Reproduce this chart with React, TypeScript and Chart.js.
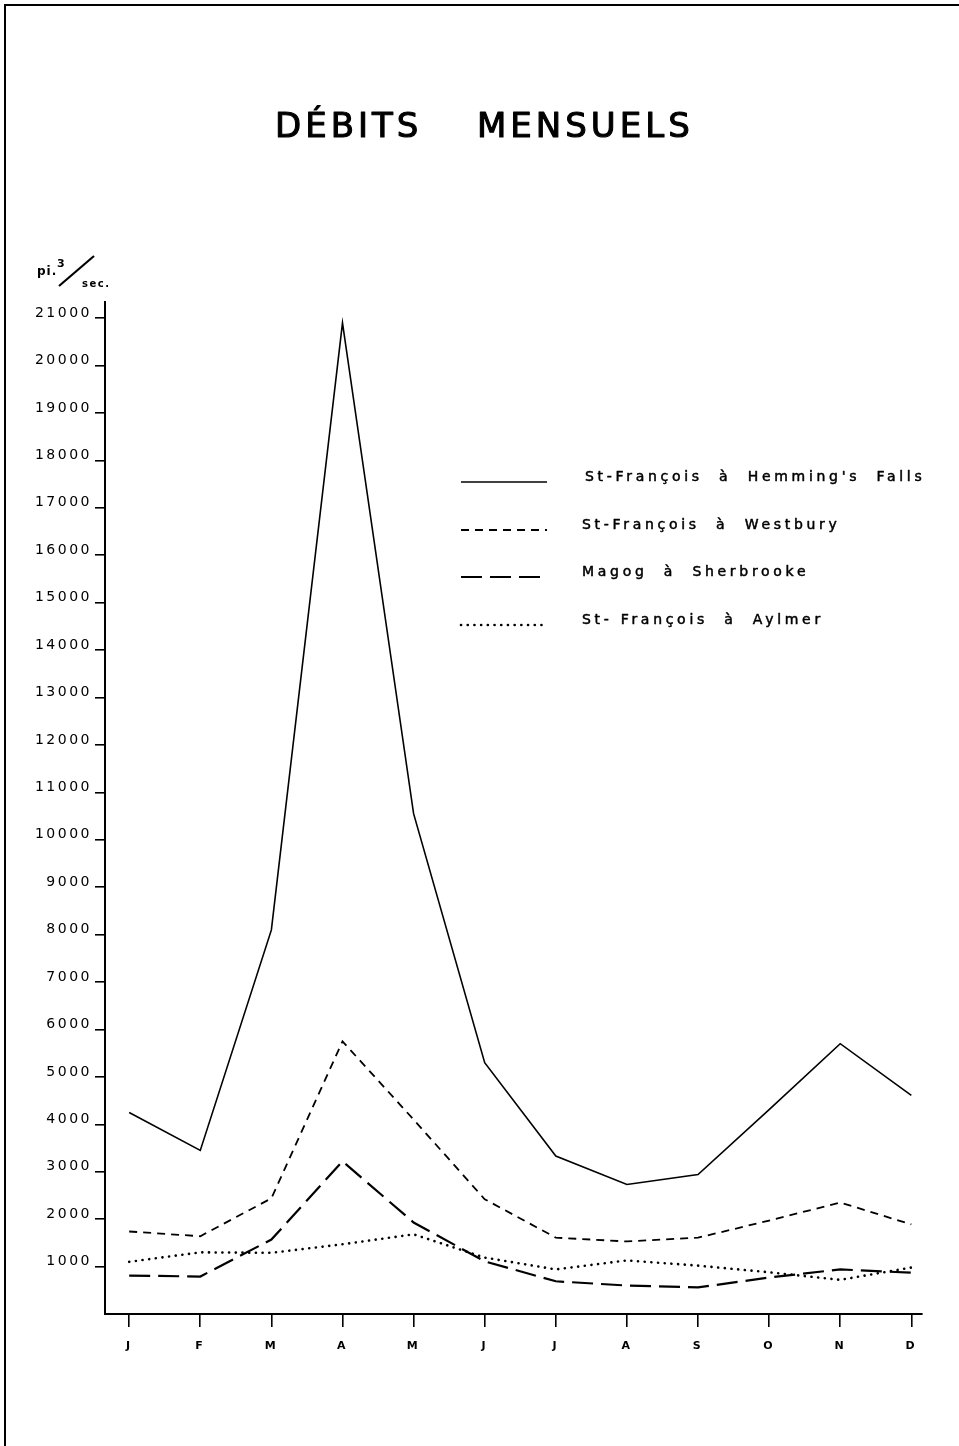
import React, { useEffect, useRef } from 'react';
import { Chart, registerables } from 'chart.js';

Chart.register(...registerables);

const MONTHS = ['J', 'F', 'M', 'A', 'M', 'J', 'J', 'A', 'S', 'O', 'N', 'D'];
const HEMMING = [4250, 3450, 8100, 20900, 10550, 5300, 3330, 2730, 2940, 4310, 5700, 4610];
const WESTBURY = [1740, 1640, 2440, 5750, 4100, 2420, 1610, 1530, 1610, 1970, 2350, 1890];
const MAGOG = [810, 790, 1570, 3220, 1930, 1110, 690, 600, 560, 770, 940, 870];
const AYLMER = [1100, 1300, 1290, 1470, 1680, 1190, 940, 1130, 1020, 880, 720, 980];
const Y_TICKS = [1000, 2000, 3000, 4000, 5000, 6000, 7000, 8000, 9000, 10000, 11000, 12000, 13000, 14000, 15000, 16000, 17000, 18000, 19000, 20000, 21000];
const SERIES_NAMES = [
  "St-François  à  Hemming's  Falls",
  'St-François  à  Westbury',
  'Magog  à  Sherbrooke',
  'St- François  à  Aylmer',
];
const TITLE_WORDS = ['DÉBITS', 'MENSUELS'];
const UNIT_TOP = 'pi.';
const UNIT_EXP = '3';
const UNIT_BOTTOM = 'sec.';

const FONT = '"DejaVu Sans", sans-serif';

const toPoints = (arr: number[]) => arr.map((v, i) => ({ x: i, y: v }));

const decorPlugin = {
  id: 'decor',
  beforeDraw(chart: any) {
    const ctx = chart.ctx as any;
    ctx.save();
    ctx.fillStyle = '#fff';
    ctx.fillRect(0, 0, chart.width, chart.height);
    ctx.restore();
    ctx.letterSpacing = '2.5px';
  },
  beforeDatasetsDraw(chart: any) {
    (chart.ctx as any).letterSpacing = '0px';
  },
  afterDraw(chart: any) {
    const ctx = chart.ctx as any;
    ctx.save();
    ctx.strokeStyle = '#000';
    ctx.fillStyle = '#000';
    // frame
    ctx.lineWidth = 2;
    ctx.beginPath();
    ctx.moveTo(5, chart.height);
    ctx.lineTo(5, 5);
    ctx.lineTo(chart.width, 5);
    ctx.stroke();

    // title
    ctx.letterSpacing = '4px';
    ctx.font = `34px ${FONT}`;
    ctx.textBaseline = 'alphabetic';
    ctx.textAlign = 'left';
    ctx.lineWidth = 1.1;
    ctx.lineJoin = 'round';
    ctx.fillText(TITLE_WORDS[0], 275, 137);
    ctx.strokeText(TITLE_WORDS[0], 275, 137);
    ctx.fillText(TITLE_WORDS[1], 477, 137);
    ctx.strokeText(TITLE_WORDS[1], 477, 137);

    // unit label
    ctx.letterSpacing = '1px';
    ctx.font = `bold 12px ${FONT}`;
    ctx.fillText(UNIT_TOP, 37, 275);
    ctx.font = `bold 11px ${FONT}`;
    ctx.fillText(UNIT_EXP, 57, 267);
    ctx.letterSpacing = '1.5px';
    ctx.font = `bold 10px ${FONT}`;
    ctx.fillText(UNIT_BOTTOM, 82, 287);
    ctx.lineWidth = 2.2;
    ctx.beginPath();
    ctx.moveTo(59, 286);
    ctx.lineTo(94, 256);
    ctx.stroke();

    // legend
    const ys = [482, 530, 577, 625];
    chart.data.datasets.forEach((ds: any, i: number) => {
      const y = ys[i];
      ctx.save();
      ctx.lineWidth = ds.borderWidth;
      ctx.setLineDash(ds.borderDash || []);
      ctx.lineCap = ds.borderCapStyle || 'butt';
      ctx.beginPath();
      ctx.moveTo(461, y);
      ctx.lineTo(547, y);
      ctx.stroke();
      ctx.restore();
      ctx.letterSpacing = '3.7px';
      ctx.font = `14px ${FONT}`;
      ctx.textBaseline = 'alphabetic';
      ctx.lineWidth = 0.5;
      const tx = i === 0 ? 585 : 582;
      ctx.fillText(ds.label, tx, y - 1);
      ctx.strokeText(ds.label, tx, y - 1);
    });
    ctx.restore();
    ctx.letterSpacing = '0px';
  },
};

export default function App() {
  const ref = useRef<HTMLCanvasElement | null>(null);
  useEffect(() => {
    document.body.style.margin = '0';
    if (!ref.current) return;
    const chart = new Chart(ref.current, {
      type: 'line',
      data: {
        datasets: [
          {
            label: SERIES_NAMES[0],
            data: toPoints(HEMMING),
            borderColor: '#000',
            borderWidth: 1.6,
            pointRadius: 0,
            tension: 0,
          },
          {
            label: SERIES_NAMES[1],
            data: toPoints(WESTBURY),
            borderColor: '#000',
            borderWidth: 1.8,
            borderDash: [8, 6],
            pointRadius: 0,
            tension: 0,
          },
          {
            label: SERIES_NAMES[2],
            data: toPoints(MAGOG),
            borderColor: '#000',
            borderWidth: 2.2,
            borderDash: [21, 8],
            pointRadius: 0,
            tension: 0,
          },
          {
            label: SERIES_NAMES[3],
            data: toPoints(AYLMER),
            borderColor: '#000',
            borderWidth: 2.6,
            borderDash: [0.1, 6.6],
            borderCapStyle: 'round',
            pointRadius: 0,
            tension: 0,
          },
        ] as any,
      },
      options: {
        animation: false,
        responsive: false,
        layout: { padding: { left: 0, right: 37, top: 302, bottom: 72 } },
        plugins: {
          legend: { display: false },
          title: { display: false },
          tooltip: { enabled: false },
        },
        scales: {
          x: {
            type: 'linear',
            min: -0.34,
            max: 11.15,
            afterBuildTicks: (s: any) => {
              s.ticks = MONTHS.map((_, i) => ({ value: i }));
            },
            afterFit: (s: any) => {
              s.height = 60;
            },
            ticks: {
              callback: (v: any) => MONTHS[v as number] ?? '',
              font: { family: FONT, size: 11, weight: 'bold' },
              color: '#000',
              padding: 13,
              maxRotation: 0,
              autoSkip: false,
            },
            grid: { drawOnChartArea: false, drawTicks: true, tickLength: 13, color: '#000', lineWidth: 1.6 },
            border: { display: true, color: '#000', width: 2 },
          },
          y: {
            type: 'linear',
            min: 0,
            max: 21340,
            afterBuildTicks: (s: any) => {
              s.ticks = Y_TICKS.map((v) => ({ value: v }));
            },
            afterFit: (s: any) => {
              s.width = 105;
            },
            ticks: {
              callback: (v: any) => String(v),
              font: { family: FONT, size: 14 },
              color: '#000',
              padding: 3,
              labelOffset: -5,
            },
            grid: { drawOnChartArea: false, drawTicks: true, tickLength: 10, color: '#000', lineWidth: 1.6 },
            border: { display: true, color: '#000', width: 2 },
          },
        },
      } as any,
      plugins: [decorPlugin],
    });
    return () => chart.destroy();
  }, []);
  return (
    <div style={{ position: 'absolute', left: 0, top: 0, width: 959, height: 1446 }}>
      <canvas ref={ref} width={959} height={1446} style={{ display: 'block', width: 959, height: 1446 }} />
    </div>
  );
}
